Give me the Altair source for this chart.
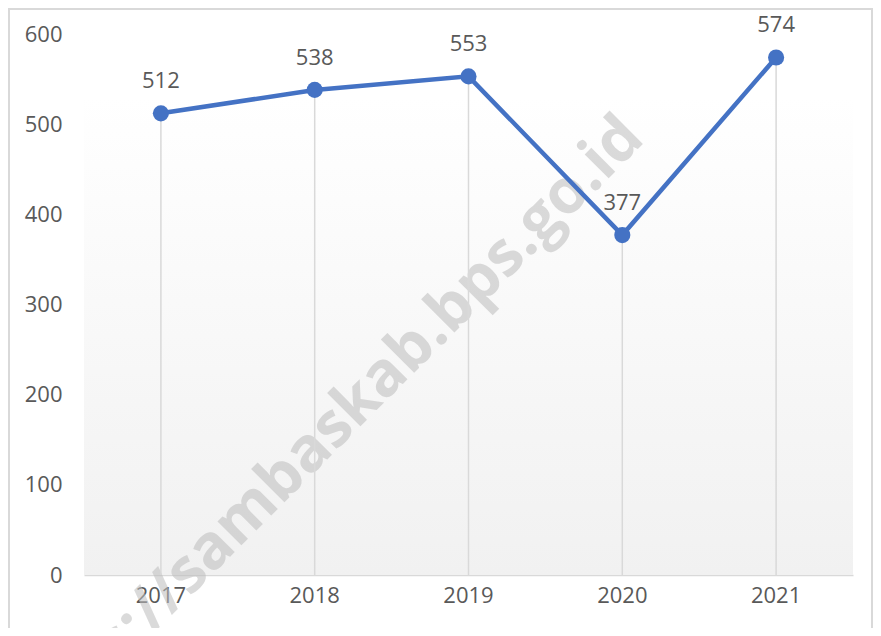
import altair as alt
import pandas as pd

years = ["2017", "2018", "2019", "2020", "2021"]
values = [512, 538, 553, 377, 574]
y_ticks = [0, 100, 200, 300, 400, 500, 600]
watermark_text = ["https://sambaskab.bps.go.id"]

df = pd.DataFrame({"year": years, "value": values})
wm = pd.DataFrame({"t": watermark_text})

FONT = "Open Sans"
TXT = "#595959"
W, H = 769, 541

x_enc = alt.X("year:N", sort=years,
              scale=alt.Scale(paddingInner=0, paddingOuter=0),
              axis=alt.Axis(title=None, labelAngle=0, ticks=False,
                            domainColor="#d9d9d9", domainWidth=1.5,
                            labelFontSize=22, labelColor=TXT, labelFont=FONT,
                            labelPadding=10, grid=False))
y_scale = alt.Scale(domain=[0, 600], nice=False)
y_enc = alt.Y("value:Q", scale=y_scale,
              axis=alt.Axis(title=None, values=y_ticks, ticks=False, domain=False,
                            grid=False, labelFontSize=22, labelColor=TXT,
                            labelFont=FONT, labelPadding=22))

base = alt.Chart(df)

border = alt.Chart(wm).mark_rect(fill=None, stroke="#d9d9d9", strokeWidth=2).encode(
    x=alt.value(-75), x2=alt.value(788), y=alt.value(-25), y2=alt.value(700))

bg = alt.Chart(wm).mark_rect(
    color=alt.Gradient(gradient="linear",
                       stops=[alt.GradientStop(color="#ffffff", offset=0),
                              alt.GradientStop(color="#f1f1f1", offset=1)],
                       x1=0, x2=0, y1=0, y2=1)
).encode(x=alt.value(0), x2=alt.value(W), y=alt.value(63), y2=alt.value(H))

watermark = alt.Chart(wm).mark_text(
    angle=315, font=FONT, fontWeight="bold", fontSize=62,
    color="#bdbdbd", opacity=0.55, align="center", baseline="middle"
).encode(text="t:N", x=alt.value(238), y=alt.value(404))

drops = base.mark_rule(color="#d9d9d9", strokeWidth=1.5).encode(
    x=x_enc, y=y_enc, y2=alt.datum(0))

line = base.mark_line(color="#4472C4", strokeWidth=4.5).encode(x=x_enc, y=y_enc)
pts = base.mark_circle(color="#4472C4", size=260, opacity=1).encode(x=x_enc, y=y_enc)
labels = base.mark_text(dy=-32, fontSize=22, font=FONT, color=TXT).encode(
    x=x_enc, y=y_enc, text="value:Q")

chart = alt.layer(border, bg, watermark, drops, line, pts, labels).properties(
    width=W, height=H,
    autosize=alt.AutoSizeParams(type="none"),
    padding={"left": 76, "top": 26, "right": 20, "bottom": 53},
).configure_view(stroke=None)

chart.save("out.html", embed_options={"renderer": "svg", "actions": False})
